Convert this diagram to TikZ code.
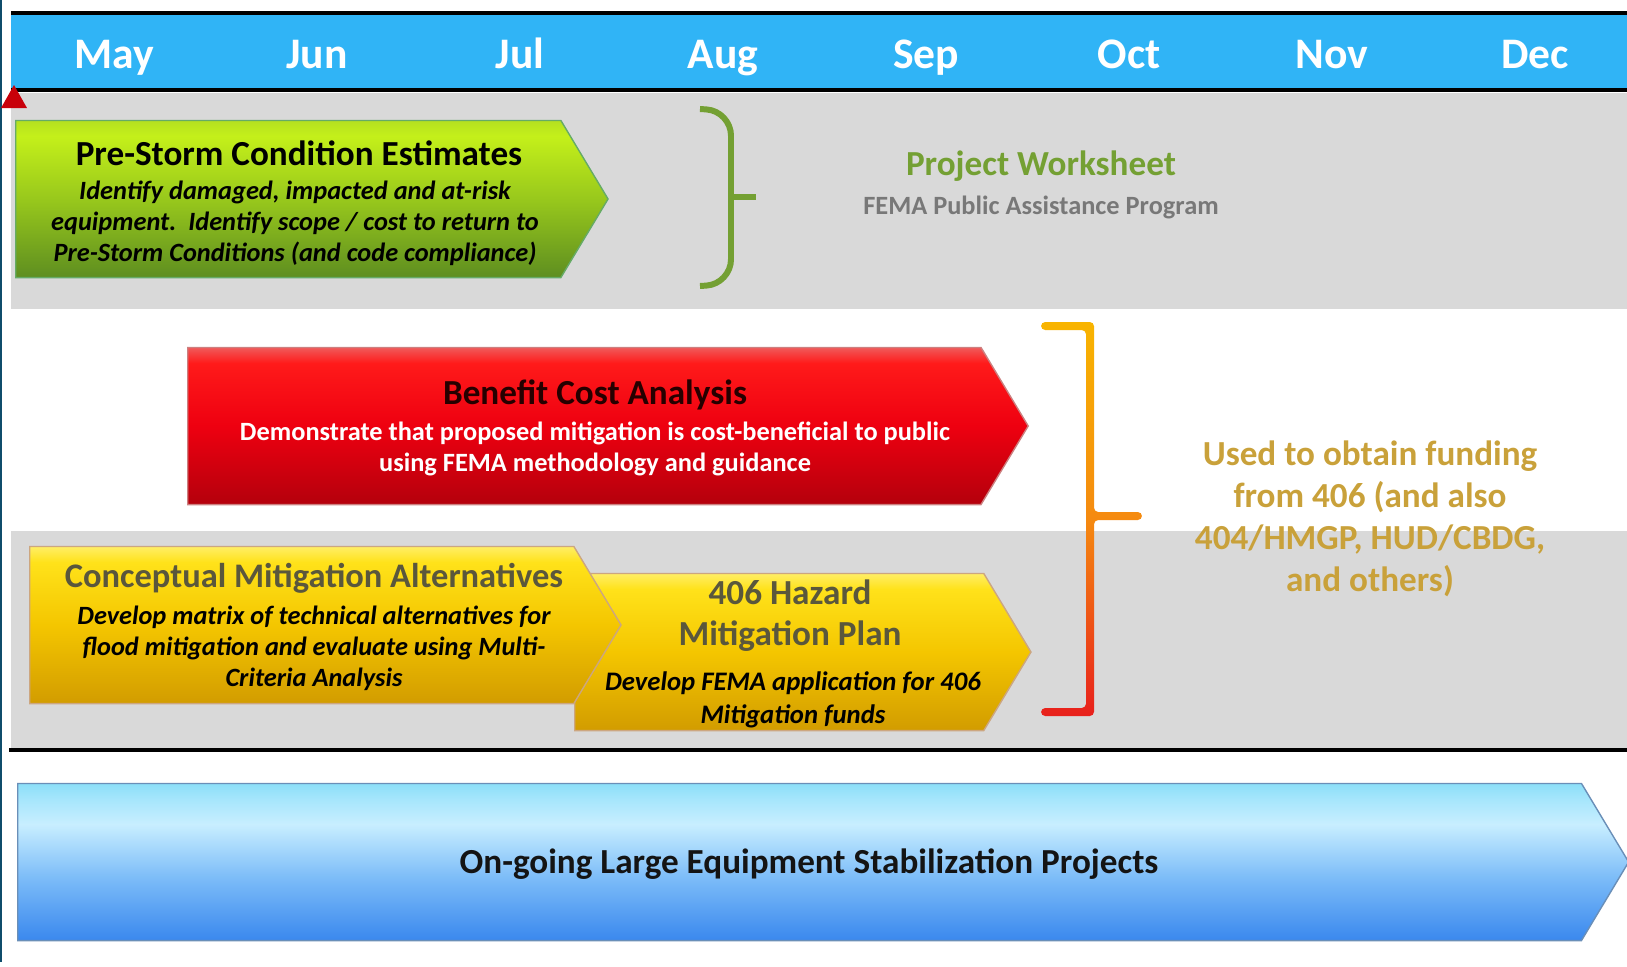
\documentclass[tikz,border=0pt]{standalone}
\usepackage{fontspec}
\setmainfont{Carlito}
\usetikzlibrary{shapes.symbols,positioning}
\definecolor{sky}{HTML}{30B4F6}
\definecolor{band}{HTML}{D9D9D9}
\definecolor{rim}{HTML}{0F4C6B}
\definecolor{alert}{HTML}{C8000A}
\definecolor{leaf}{HTML}{74A033}
\definecolor{gold}{HTML}{C9A13A}
\definecolor{slate}{HTML}{787878}
\definecolor{drab}{HTML}{5A573C}
\definecolor{ink}{HTML}{141414}
\definecolor{frost}{HTML}{6A8FB8}
% colour stops of the bands
\definecolor{limeA}{HTML}{5E8E20}\definecolor{limeB}{HTML}{98C81C}
\definecolor{limeC}{HTML}{C4F01A}\definecolor{limeD}{HTML}{B4E020}
\definecolor{fireA}{HTML}{B4000C}\definecolor{fireB}{HTML}{EE0010}
\definecolor{fireC}{HTML}{FF1A1A}\definecolor{fireD}{HTML}{F05A5A}
\definecolor{sunA}{HTML}{D29C00}\definecolor{sunB}{HTML}{F4C600}
\definecolor{sunC}{HTML}{FFE21A}\definecolor{sunD}{HTML}{FFEE66}
\definecolor{iceA}{HTML}{3A88EE}\definecolor{iceB}{HTML}{7CBCF8}
\definecolor{iceC}{HTML}{C8EEFF}\definecolor{iceD}{HTML}{A6E6FC}
\definecolor{iceE}{HTML}{8CDFF8}
\definecolor{flameA}{HTML}{E8201C}\definecolor{flameB}{HTML}{F58A10}
\definecolor{flameC}{HTML}{F8B400}
% band shadings, bottom to top
\pgfdeclareverticalshading{limeband}{100bp}{color(0bp)=(limeA);
 color(25bp)=(limeA); color(50bp)=(limeB); color(70bp)=(limeC);
 color(75bp)=(limeD); color(100bp)=(limeD)}
\pgfdeclareverticalshading{fireband}{100bp}{color(0bp)=(fireA);
 color(25bp)=(fireA); color(50bp)=(fireB); color(70bp)=(fireC);
 color(75bp)=(fireD); color(100bp)=(fireD)}
\pgfdeclareverticalshading{sunband}{100bp}{color(0bp)=(sunA);
 color(25bp)=(sunA); color(50bp)=(sunB); color(70bp)=(sunC);
 color(75bp)=(sunD); color(100bp)=(sunD)}
\pgfdeclareverticalshading{iceband}{100bp}{color(0bp)=(iceA);
 color(25bp)=(iceA); color(45bp)=(iceB); color(62bp)=(iceC);
 color(70bp)=(iceD); color(75bp)=(iceE); color(100bp)=(iceE)}
\pgfdeclareverticalshading{flameband}{100bp}{color(0bp)=(flameA);
 color(25bp)=(flameA); color(50bp)=(flameB); color(75bp)=(flameC);
 color(100bp)=(flameC)}
\tikzset{phase/.style={shape=signal,signal to=east,signal pointer angle=118,
 minimum height=1.57cm,inner sep=0pt,anchor=west},
 month/.style={text=white,anchor=base,font=\fontsize{12.4}{13}\selectfont\bfseries},
 title/.style={align=center,font=\fontsize{10}{11}\selectfont\bfseries},
 detail/.style={align=center,font=\fontsize{7.5}{8.8}\selectfont\bfseries\itshape}}

\begin{document}
\begin{tikzpicture}[x=0.01cm,y=-0.01cm]
\useasboundingbox (0,0) rectangle (1627,966);
% grey bands and month header
\fill[band] (11,93) rectangle (1627,309);
\fill[band] (11,531) rectangle (1627,749);
\fill[sky] (11,14) rectangle (1627,90);
\draw[line width=1pt] (11,13) -- (1627,13);
\draw[line width=1pt] (11,90) -- (1627,90);
\draw[line width=0.9pt] (9,750) -- (1627,750);
\fill[rim] (0,0) rectangle (1.6,962);
\foreach \m [count=\i from 0] in {May,Jun,Jul,Aug,Sep,Oct,Nov,Dec}
  \node[month] (m\i) at (114+203*\i,68) {\m};
\fill[alert] (1,108) -- (14,85) -- (27,108) -- cycle;

% phases
\node[phase,shading=limeband,draw=green!45!black!60,minimum width=5.92cm] (pse) at (15,199) {};
\node[title] (psetl) at (299,153) {Pre-Storm Condition Estimates};
\node[detail] (psedt) at (295,223) {Identify damaged, impacted and at-risk\\
 equipment.\ \ Identify scope / cost to return to\\Pre-Storm Conditions (and code compliance)};

\draw[leaf,line width=1.7pt,rounded corners=7pt] (700,109) -- (731,111) -- (731,284) -- (700,286);
\draw[leaf,line width=1.7pt] (731,197) -- (756,197);
\node[leaf,font=\fontsize{10}{11}\selectfont\bfseries] (pw) at (1041,166) {Project Worksheet};
\node[slate,font=\fontsize{7.5}{9}\selectfont\bfseries,below=-1mm of pw] (pa) {FEMA Public Assistance Program};

\node[phase,shading=fireband,draw=red!60!black!50,minimum width=8.40cm] (bca) at (187,426) {};
\node[title,text=black!85!red] (bcatl) at (595,395) {Benefit Cost Analysis};
\node[align=center,text=white,font=\fontsize{7.5}{8.8}\selectfont\bfseries] (bcadt) at (595,449)
 {Demonstrate that proposed mitigation is cost-beneficial to public\\using FEMA methodology and guidance};

\node[phase,shading=sunband,draw=orange!60!black!50,minimum width=4.56cm] (hmp) at (574,652) {};
\node[phase,shading=sunband,draw=orange!60!black!50,minimum width=5.91cm] (cma) at (29,625) {};
\node[align=center,text=drab,font=\fontsize{9.8}{11.2}\selectfont\bfseries] (cmatl) at (314,578) {Conceptual Mitigation Alternatives};
\node[detail] (cmadt) at (314,648) {Develop matrix of technical alternatives for\\
 flood mitigation and evaluate using Multi-\\Criteria Analysis};
\node[align=center,text=drab,font=\fontsize{10}{11.7}\selectfont\bfseries] (hmptl) at (790,616) {406 Hazard\\Mitigation Plan};
\node[detail,font=\fontsize{7.6}{9.4}\selectfont\bfseries\itshape] (hmpdt) at (793,700)
 {Develop FEMA application for 406\\Mitigation funds};

\shade[shading=flameband,rounded corners=1.2pt] (1041,322) -- (1094,322) -- (1094,512) -- (1142,512)
 -- (1142,520) -- (1094,520) -- (1094,716) -- (1041,716) -- (1041,708) -- (1086,708)
 -- (1086,330) -- (1041,330) -- cycle;
\node[align=center,text=gold,font=\fontsize{10}{11.9}\selectfont\bfseries] (fund) at (1370,519)
 {Used to obtain funding\\from 406 (and also\\404/HMGP, HUD/CBDG,\\and others)};

\node[phase,shading=iceband,draw=frost,minimum width=16.10cm] (les) at (17,862) {};
\node[text=ink,font=\fontsize{10}{11}\selectfont\bfseries] (lestl) at (809,864)
 {On-going Large Equipment Stabilization Projects};
\end{tikzpicture}
\end{document}
